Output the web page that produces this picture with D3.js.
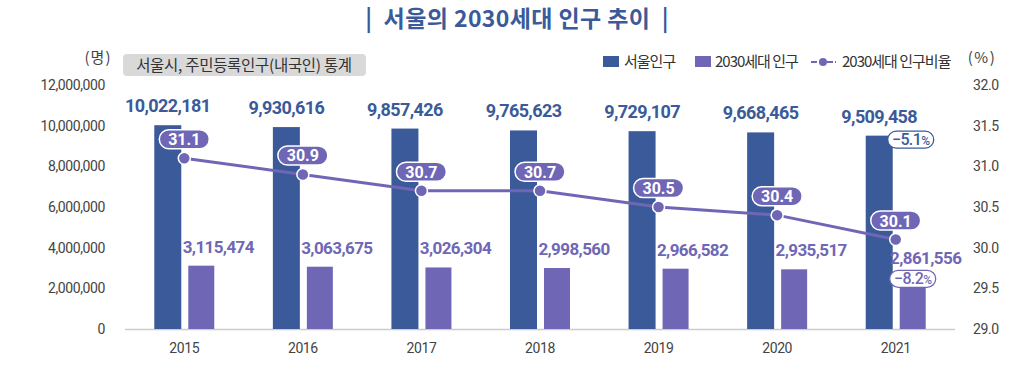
<!DOCTYPE html>
<html>
<head>
<meta charset="utf-8">
<script src="https://cdn.jsdelivr.net/npm/d3@7"></script>
<style>
  body { margin: 0; background: #fff; }
  svg { display: block; font-family: "Noto Sans CJK KR", "Noto Sans", sans-serif; }
</style>
</head>
<body>
<svg id="chart" width="1024" height="386"></svg>
<script>
// data
var years = ["2015", "2016", "2017", "2018", "2019", "2020", "2021"];
var seoulPop = [10022181, 9930616, 9857426, 9765623, 9729107, 9668465, 9509458];
var youthPop = [3115474, 3063675, 3026304, 2998560, 2966582, 2935517, 2861556];
var youthRatio = [31.1, 30.9, 30.7, 30.7, 30.5, 30.4, 30.1];
var leftTicks = [0, 2000000, 4000000, 6000000, 8000000, 10000000, 12000000];
var rightTicks = [29.0, 29.5, 30.0, 30.5, 31.0, 31.5, 32.0];
var seoulChange = "−5.1";
var youthChange = "−8.2";

var blue = "#3a5a99", purple = "#6f67b6";

const svg = d3.select("#chart");
const x = d3.scaleBand().domain(years).range([125, 955]);
const yL = d3.scaleLinear().domain([0, 12000000]).range([329, 85]);
const yR = d3.scaleLinear().domain([29, 32]).range([329, 85]);
const cx = d => x(d) + x.bandwidth() / 2;
const fmt = d3.format(",");

// title
svg.append("text").attr("x", 517).attr("y", 27).attr("text-anchor", "middle")
  .attr("font-size", 23).attr("font-weight", 700).attr("fill", blue)
  .attr("letter-spacing", 0.4).attr("xml:space", "preserve")
  .text("|  서울의 2030세대 인구 추이  |");

// unit + source box
svg.append("text").attr("x", 98).attr("y", 63).attr("text-anchor", "middle")
  .attr("font-size", 15).attr("fill", "#444").attr("letter-spacing", 1).text("(명)");
svg.append("rect").attr("x", 123).attr("y", 54).attr("width", 243).attr("height", 22)
  .attr("rx", 4).attr("fill", "#d9d9d9");
svg.append("text").attr("x", 244).attr("y", 70.5).attr("text-anchor", "middle")
  .attr("font-size", 15.5).attr("fill", "#333").attr("letter-spacing", -0.3)
  .text("서울시, 주민등록인구(내국인) 통계");

// legend
const lg = svg.append("g").attr("font-size", 15).attr("fill", "#333").attr("letter-spacing", -1);
lg.append("rect").attr("x", 603).attr("y", 56).attr("width", 16).attr("height", 11).attr("fill", blue);
lg.append("text").attr("x", 624).attr("y", 67).text("서울인구");
lg.append("rect").attr("x", 695).attr("y", 56).attr("width", 16).attr("height", 11).attr("fill", purple);
lg.append("text").attr("x", 715).attr("y", 67).text("2030세대 인구");
lg.append("line").attr("x1", 811).attr("x2", 836).attr("y1", 62).attr("y2", 62)
  .attr("stroke", purple).attr("stroke-width", 2).attr("stroke-dasharray", "6,2");
lg.append("circle").attr("cx", 823).attr("cy", 62).attr("r", 4).attr("fill", purple);
lg.append("text").attr("x", 842).attr("y", 67).text("2030세대 인구비율");
svg.append("text").attr("x", 982).attr("y", 63).attr("text-anchor", "middle")
  .attr("font-size", 15).attr("fill", "#444").attr("letter-spacing", 1.5).text("(%)");

// axes
const axL = svg.append("g").attr("transform", "translate(108,0)")
  .call(d3.axisLeft(yL).tickValues(leftTicks).tickSize(0).tickFormat(fmt));
const axR = svg.append("g").attr("transform", "translate(970,0)")
  .call(d3.axisRight(yR).tickValues(rightTicks).tickSize(0).tickFormat(d3.format(".1f")));
const axB = svg.append("g").attr("transform", "translate(0,329)")
  .call(d3.axisBottom(x).tickSize(0).tickPadding(14));
[axL, axR, axB].forEach(a => {
  a.select(".domain").remove();
  a.selectAll("text").attr("font-family", "Roboto, sans-serif").attr("font-size", 14)
    .attr("fill", "#444").attr("letter-spacing", -0.4);
});
axL.selectAll("text").attr("dx", 0);
axR.selectAll("text").attr("dx", 0);
svg.append("line").attr("x1", 125).attr("x2", 955).attr("y1", 329.5).attr("y2", 329.5)
  .attr("stroke", "#ccc").attr("stroke-width", 1.5);

// bars
svg.selectAll("rect.seoul").data(years).enter().append("rect").attr("class", "seoul")
  .attr("x", d => cx(d) - 30).attr("width", 27)
  .attr("y", (d, i) => yL(seoulPop[i])).attr("height", (d, i) => yL(0) - yL(seoulPop[i]))
  .attr("fill", blue);
svg.selectAll("rect.youth").data(years).enter().append("rect").attr("class", "youth")
  .attr("x", d => cx(d) + 4).attr("width", 26)
  .attr("y", (d, i) => yL(youthPop[i])).attr("height", (d, i) => yL(0) - yL(youthPop[i]))
  .attr("fill", purple);

// bar value labels
svg.selectAll("text.seoulLab").data(years).enter().append("text").attr("class", "seoulLab")
  .attr("x", d => cx(d) - 16.5).attr("y", (d, i) => yL(seoulPop[i]) - 13)
  .attr("text-anchor", "middle").attr("font-family", "Roboto, sans-serif")
  .attr("font-size", 18).attr("font-weight", 700).attr("letter-spacing", -0.6)
  .attr("fill", blue).text((d, i) => fmt(seoulPop[i]));
const last = years.length - 1;
svg.selectAll("text.youthLab").data(years).enter().append("text").attr("class", "youthLab")
  .attr("x", (d, i) => cx(d) + (i === last ? 30 : 34))
  .attr("y", (d, i) => yL(youthPop[i]) - (i === last ? 7 : 13))
  .attr("text-anchor", "middle").attr("font-family", "Roboto, sans-serif")
  .attr("font-size", 17).attr("font-weight", 700).attr("letter-spacing", -0.6)
  .attr("fill", purple).text((d, i) => fmt(youthPop[i]));

// ratio line
const line = d3.line().x((d, i) => cx(years[i])).y(d => yR(d));
svg.append("path").datum(youthRatio).attr("d", line).attr("fill", "none")
  .attr("stroke", purple).attr("stroke-width", 3);
svg.selectAll("circle.dot").data(youthRatio).enter().append("circle").attr("class", "dot")
  .attr("cx", (d, i) => cx(years[i])).attr("cy", d => yR(d)).attr("r", 6)
  .attr("fill", purple).attr("stroke", "#fff").attr("stroke-width", 1.5);

// ratio pills
const pills = svg.selectAll("g.pill").data(youthRatio).enter().append("g").attr("class", "pill")
  .attr("transform", (d, i) => "translate(" + cx(years[i]) + "," + (yR(d) - 19) + ")");
pills.append("rect").attr("x", -25).attr("y", -9.5).attr("width", 50).attr("height", 19)
  .attr("rx", 9.5).attr("fill", purple).attr("stroke", "#fff").attr("stroke-width", 1.5);
pills.append("text").attr("y", 6).attr("text-anchor", "middle")
  .attr("font-family", "Roboto, sans-serif").attr("font-size", 16).attr("font-weight", 700)
  .attr("fill", "#fff").text(d => d.toFixed(1));

// change pills for 2021
function changePill(px, py, txt, col) {
  const g = svg.append("g").attr("transform", "translate(" + px + "," + py + ")");
  g.append("rect").attr("x", -23).attr("y", -8.5).attr("width", 46).attr("height", 17)
    .attr("rx", 8.5).attr("fill", "#fff").attr("stroke", col).attr("stroke-width", 1.3);
  const t = g.append("text").attr("y", 5.5).attr("text-anchor", "middle")
    .attr("font-family", "Roboto, sans-serif").attr("font-size", 16).attr("font-weight", 500)
    .attr("fill", col).attr("letter-spacing", -0.6);
  t.append("tspan").text(txt);
  t.append("tspan").attr("font-size", 12).text("%");
}
changePill(cx(years[last]) + 15, yL(seoulPop[last]) + 4, seoulChange, blue);
changePill(cx(years[last]) + 17, yL(youthPop[last]) + 8, youthChange, purple);
</script>
</body>
</html>
